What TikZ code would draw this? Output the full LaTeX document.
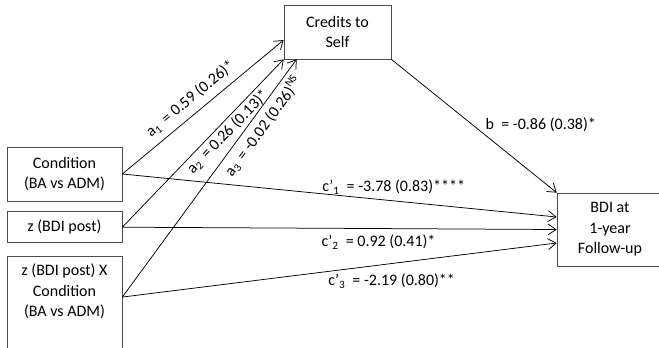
\documentclass[tikz,border=0pt]{standalone}
\usepackage{fontspec}
\setmainfont{Carlito}
\usetikzlibrary{arrows.meta,positioning}

\begin{document}
\begin{tikzpicture}[
  x=1pt, y=-1pt,
  box/.style={draw=black!70, line width=0.7pt, minimum width=115pt, align=center, inner sep=0pt, font=\fontsize{16}{20.5}\selectfont},
  arrow/.style={-{Straight Barb[length=8pt,width=11pt]}, line width=0.75pt},
  lbl/.style={inner sep=2pt, font=\fontsize{16}{19}\selectfont}
]
\clip (0,0) rectangle (659,348);
\node[box, minimum height=54pt] (cond) at (64.5,174) {Condition\\ (BA vs ADM)};
\node[box, minimum height=31pt, below=10pt of cond] (zbdi) {z (BDI post)};
\node[box, minimum height=115pt, below=13pt of zbdi] (inter) {z (BDI post) X\\ Condition\\ (BA vs ADM)\\ \strut\\ \strut};
\node[box, minimum width=107pt, minimum height=54pt] (credits) at (337.5,32) {Credits to\\ Self};
\node[box, minimum width=106pt, minimum height=73pt] (bdi) at (610,229.5) {BDI at\\ 1-year\\ Follow-up};
% paths a
\draw[arrow] (cond.east) -- ([yshift=-8pt]credits.west)
  node[lbl, sloped, above=5pt, pos=0.48] {a\textsubscript{1} \,= 0.59 (0.26)*};
\draw[arrow] (zbdi.east) -- (credits.south west)
  node[lbl, sloped, below=0.5pt, pos=0.61] {a\textsubscript{2} \,= 0.26 (0.13)*};
\draw[arrow] ([yshift=-41pt]inter.north east) -- ([xshift=13pt]credits.south west)
  node[lbl, sloped, below=2pt, pos=0.75] {a\textsubscript{3} \,= -0.02 (0.26)\textsuperscript{NS}};
% path b
\draw[arrow] (credits.south east) -- (bdi.north west)
  node[lbl, pos=0.49, right=11pt] {b \ = -0.86 (0.38)*};
% paths c'
\draw[arrow] (cond.east) -- ([yshift=12.5pt]bdi.west)
  node[lbl, pos=0.625, above=4pt] {c’\textsubscript{1} \ = -3.78 (0.83)****};
\draw[arrow] (zbdi.east) -- (bdi.west)
  node[lbl, pos=0.59, below=4pt] {c’\textsubscript{2} \ = 0.92 (0.41)*};
\draw[arrow] ([yshift=-41pt]inter.north east) -- ([yshift=-13.5pt]bdi.west)
  node[lbl, pos=0.62, below=8pt] {c’\textsubscript{3} \ = -2.19 (0.80)**};
\end{tikzpicture}
\end{document}
